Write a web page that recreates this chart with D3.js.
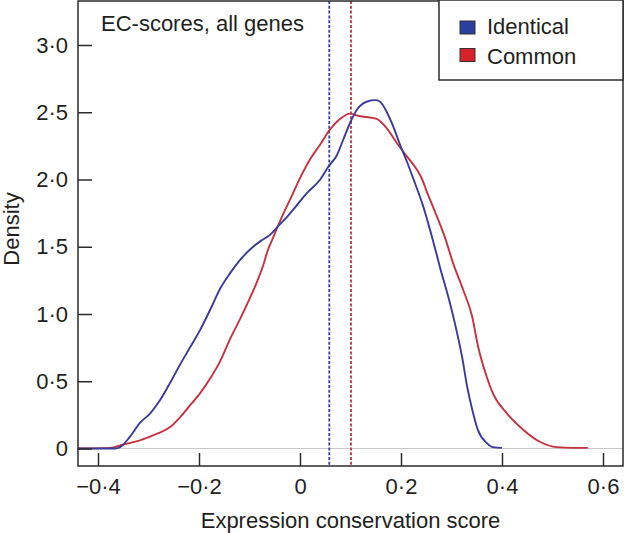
<!DOCTYPE html>
<html>
<head>
<meta charset="utf-8">
<script src="https://cdn.jsdelivr.net/npm/d3@7"></script>
<style>
  html, body { margin: 0; padding: 0; background: #fff; }
  svg { display: block; }
  text { font-family: "Liberation Sans", Arial, Helvetica, sans-serif; fill: #231f20; }
</style>
</head>
<body>
<svg id="chart" width="624" height="533"></svg>
<script>
// ---- data ----
const identicalX = [-0.44, -0.366, -0.356, -0.337, -0.317, -0.297, -0.277, -0.257, -0.238, -0.218, -0.198, -0.178, -0.158, -0.139, -0.119, -0.099, -0.079, -0.059, -0.044, -0.026, -0.006, 0.014, 0.040, 0.057, 0.073, 0.085, 0.099, 0.113, 0.133, 0.149, 0.158, 0.172, 0.184, 0.198, 0.212, 0.224, 0.244, 0.263, 0.277, 0.297, 0.311, 0.321, 0.331, 0.341, 0.352, 0.370, 0.382, 0.400];
const identicalY = [0, 0, 0.01, 0.086, 0.19, 0.26, 0.36, 0.49, 0.62, 0.75, 0.88, 1.03, 1.19, 1.30, 1.40, 1.48, 1.54, 1.59, 1.65, 1.72, 1.81, 1.90, 2.00, 2.10, 2.18, 2.29, 2.42, 2.52, 2.58, 2.59, 2.58, 2.50, 2.40, 2.26, 2.13, 2.01, 1.80, 1.55, 1.35, 1.08, 0.86, 0.68, 0.46, 0.29, 0.14, 0.04, 0.01, 0.005];
const commonX = [-0.44, -0.376, -0.350, -0.317, -0.283, -0.257, -0.238, -0.218, -0.198, -0.178, -0.158, -0.139, -0.119, -0.099, -0.085, -0.073, -0.065, -0.053, -0.036, -0.016, 0.000, 0.020, 0.040, 0.059, 0.079, 0.099, 0.119, 0.139, 0.152, 0.172, 0.192, 0.212, 0.232, 0.242, 0.251, 0.263, 0.287, 0.303, 0.323, 0.341, 0.352, 0.370, 0.382, 0.410, 0.442, 0.475, 0.509, 0.541, 0.570];
const commonY = [0, 0.005, 0.03, 0.06, 0.11, 0.16, 0.23, 0.32, 0.41, 0.52, 0.65, 0.81, 0.96, 1.12, 1.24, 1.36, 1.46, 1.57, 1.72, 1.88, 2.01, 2.15, 2.26, 2.37, 2.45, 2.49, 2.47, 2.46, 2.45, 2.38, 2.27, 2.17, 2.07, 2.00, 1.91, 1.80, 1.57, 1.38, 1.18, 0.98, 0.77, 0.53, 0.41, 0.26, 0.14, 0.05, 0.01, 0.005, 0.005];
const seriesNames = ["Identical", "Common"];
const seriesMeans = [0.058, 0.101];
const xTicks = [-0.4, -0.2, 0, 0.2, 0.4, 0.6];
const xTickLabels = ["\u22120\u00b74", "\u22120\u00b72", "0", "0\u00b72", "0\u00b74", "0\u00b76"];
const yTicks = [0, 0.5, 1.0, 1.5, 2.0, 2.5, 3.0];
const yTickLabels = ["0", "0\u00b75", "1\u00b70", "1\u00b75", "2\u00b70", "2\u00b75", "3\u00b70"];

// ---- styling / layout ----
const lineColors = ["#3b3b9c", "#c8313f"];
const swatchColors = ["#2b3f9e", "#d8222b"];
const frameColor = "#2b2b2b";
const fontSize = 22;
const plot = { left: 78, right: 623, top: 1, bottom: 466 };

const svg = d3.select("#chart");
const x = d3.scaleLinear().domain([-0.4, 0.6]).range([98, 603]);
const y = d3.scaleLinear().domain([0, 3]).range([448.5, 45]);

// zero line
svg.append("line")
  .attr("x1", plot.left).attr("x2", plot.right)
  .attr("y1", y(0)).attr("y2", y(0))
  .attr("stroke", "#c8c8c8").attr("stroke-width", 1.2);

// mean lines
seriesMeans.forEach((m, i) => {
  svg.append("line")
    .attr("x1", x(m)).attr("x2", x(m))
    .attr("y1", plot.top).attr("y2", plot.bottom)
    .attr("stroke", lineColors[i]).attr("stroke-width", 1.8)
    .attr("stroke-dasharray", "3,1.8");
});

// curves
const series = [
  d3.zip(identicalX, identicalY),
  d3.zip(commonX, commonY)
];
const lineGen = d3.line().x(d => x(d[0])).y(d => y(d[1])).curve(d3.curveMonotoneX);
[1, 0].forEach(i => {
  svg.append("path")
    .datum(series[i])
    .attr("fill", "none")
    .attr("stroke", lineColors[i])
    .attr("stroke-width", 1.9)
    .attr("stroke-linejoin", "round")
    .attr("d", lineGen);
});

// axes
const xAxis = d3.axisBottom(x).tickValues(xTicks)
  .tickFormat((d, i) => xTickLabels[i]).tickSize(-13).tickSizeOuter(0).tickPadding(12);
const gx = svg.append("g").attr("transform", `translate(0,${plot.bottom})`).call(xAxis);
gx.select(".domain").remove();
gx.selectAll(".tick line").attr("stroke", frameColor).attr("stroke-width", 1.5);
gx.selectAll(".tick text").attr("font-size", fontSize).attr("fill", "#231f20")
  .style("font-family", '"Liberation Sans", Arial, sans-serif');

const yAxis = d3.axisLeft(y).tickValues(yTicks)
  .tickFormat((d, i) => yTickLabels[i]).tickSize(-14).tickSizeOuter(0).tickPadding(10);
const gy = svg.append("g").attr("transform", `translate(${plot.left},0)`).call(yAxis);
gy.select(".domain").remove();
gy.selectAll(".tick line").attr("stroke", frameColor).attr("stroke-width", 1.5);
gy.selectAll(".tick text").attr("font-size", fontSize).attr("fill", "#231f20")
  .style("font-family", '"Liberation Sans", Arial, sans-serif');

// frame
svg.append("rect")
  .attr("x", plot.left).attr("y", plot.top)
  .attr("width", plot.right - plot.left).attr("height", plot.bottom - plot.top)
  .attr("fill", "none").attr("stroke", frameColor).attr("stroke-width", 1.5);

// annotation
svg.append("text").attr("x", 101).attr("y", 31)
  .attr("font-size", fontSize).text("EC-scores, all genes");

// axis titles
svg.append("text").attr("x", (plot.left + plot.right) / 2).attr("y", 528)
  .attr("text-anchor", "middle").attr("font-size", fontSize)
  .text("Expression conservation score");
svg.append("text")
  .attr("transform", "translate(19,229) rotate(-90)")
  .attr("text-anchor", "middle").attr("font-size", fontSize)
  .text("Density");

// legend
const lg = svg.append("g");
lg.append("rect").attr("x", 439).attr("y", plot.top - 1)
  .attr("width", plot.right - 439).attr("height", 80)
  .attr("fill", "#fff").attr("stroke", frameColor).attr("stroke-width", 1.5);
seriesNames.forEach((name, i) => {
  lg.append("rect").attr("x", 460).attr("y", 21 + i * 27.5)
    .attr("width", 15).attr("height", 13)
    .attr("fill", swatchColors[i]).attr("stroke", "#333").attr("stroke-width", 1);
  lg.append("text").attr("x", 487).attr("y", 34 + i * 29.5)
    .attr("font-size", fontSize).text(name);
});
</script>
</body>
</html>
